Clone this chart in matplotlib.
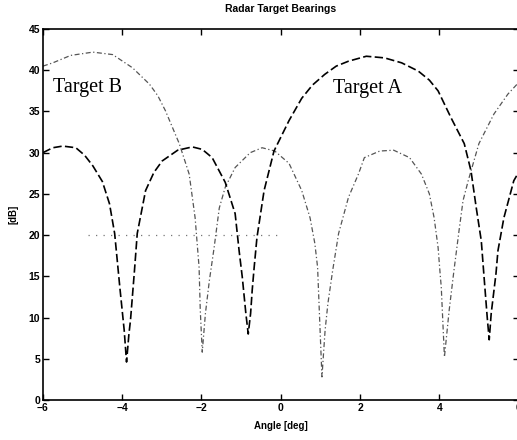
import matplotlib
matplotlib.use("Agg")
import matplotlib.pyplot as plt

# values
a_angle = [-6.0, -5.75, -5.5, -5.17, -4.95, -4.74, -4.5, -4.32, -4.19, -4.06,
           -3.95, -3.89, -3.83, -3.79, -3.69, -3.62, -3.41, -3.2, -2.99, -2.6,
           -2.23, -1.98, -1.73, -1.40, -1.15, -1.05, -0.97, -0.88, -0.82, -0.76,
           -0.72, -0.67, -0.60, -0.42, -0.17, 0.21, 0.53, 0.8, 1.11, 1.4,
           1.71, 2.16, 2.62, 3.05, 3.47, 3.75, 3.97, 4.30, 4.63, 4.80,
           4.93, 5.06, 5.13, 5.21, 5.26, 5.31, 5.43, 5.48, 5.63, 5.88, 6.0]
a_db = [30.0, 30.6, 30.8, 30.6, 29.7, 28.4, 26.5, 23.8, 20.2, 13.7,
        8.5, 4.6, 8.0, 9.7, 15.7, 20.2, 25.4, 27.6, 29.0, 30.3,
        30.7, 30.4, 29.4, 26.4, 22.6, 18.1, 14.9, 10.5, 8.0, 10.5,
        13.3, 16.1, 19.7, 25.4, 30.2, 33.9, 36.6, 38.2, 39.5, 40.5,
        41.1, 41.7, 41.5, 40.9, 39.9, 38.8, 37.5, 34.2, 31.1, 27.8,
        23.4, 19.3, 14.9, 10.0, 7.3, 10.5, 15.3, 18.1, 22.1, 26.6, 27.6]

b_angle = [-6.0, -5.75, -5.3, -4.74, -4.24, -3.74, -3.31, -3.1, -2.91, -2.56,
           -2.31, -2.16, -2.06, -2.03, -1.98, -1.90, -1.80, -1.68, -1.55, -1.40,
           -1.15, -0.77, -0.47, -0.15, 0.21, 0.53, 0.74, 0.86, 0.93, 0.98,
           1.04, 1.12, 1.19, 1.31, 1.46, 1.71, 1.96, 2.11, 2.5, 2.85,
           3.25, 3.55, 3.75, 3.87, 3.97, 4.02, 4.05, 4.13, 4.25, 4.37,
           4.50, 4.60, 4.73, 5.00, 5.38, 5.73, 6.0]
b_db = [40.5, 40.9, 41.8, 42.2, 41.9, 40.3, 38.3, 36.9, 35.1, 31.1,
        27.4, 22.1, 16.1, 10.9, 5.8, 10.5, 14.5, 18.5, 23.3, 25.8,
        28.2, 30.0, 30.6, 30.2, 28.7, 25.4, 22.1, 19.0, 16.1, 10.0,
        2.8, 8.5, 11.7, 15.7, 20.2, 24.6, 27.4, 29.4, 30.2, 30.3,
        29.4, 27.4, 25.0, 22.1, 18.5, 15.4, 13.7, 5.2, 10.9, 15.7,
        20.6, 24.2, 26.6, 31.1, 34.7, 37.1, 38.5]

threshold_db = 20
threshold_span = [-4.85, 0.0]

xticks = [-6, -4, -2, 0, 2, 4, 6]
yticks = [0, 5, 10, 15, 20, 25, 30, 35, 40, 45]

plt.rcParams['font.family'] = ['Liberation Sans', 'DejaVu Sans']

fig = plt.figure(figsize=(5.17, 4.40), dpi=100)
ax = fig.add_axes([0.083, 0.091, 0.92, 0.843])

ax.plot(b_angle, b_db, color='#555555', lw=0.9, linestyle=(0, (4, 2, 1, 2)))
ax.plot(a_angle, a_db, color='black', lw=1.2, linestyle=(0, (5, 2)))
ax.plot(threshold_span, [threshold_db, threshold_db], color='#777777',
        lw=0.9, linestyle=(0, (1, 5)))

ax.text(-5.75, 37.4, 'Target B', family='Liberation Serif', fontsize=14.5)
ax.text(1.31, 37.2, 'Target A', family='Liberation Serif', fontsize=14.5)

ax.set_xlim(-6, 6)
ax.set_ylim(0, 45)
ax.set_xticks(xticks)
ax.set_yticks(yticks)
ax.tick_params(direction='in', top=True, right=True, length=4, width=1,
               labelsize=7.5, pad=2)
for lab in ax.get_xticklabels() + ax.get_yticklabels():
    lab.set_fontweight('bold')
for s in ax.spines.values():
    s.set_linewidth(1.2)

ax.set_title('Radar Target Bearings', fontsize=7.5, fontweight='bold', pad=12)
ax.set_xlabel('Angle [deg]', fontsize=7, fontweight='bold', labelpad=6)
ax.set_ylabel('[dB]', fontsize=7, fontweight='bold', labelpad=7)

fig.savefig('out.png', dpi=100)
